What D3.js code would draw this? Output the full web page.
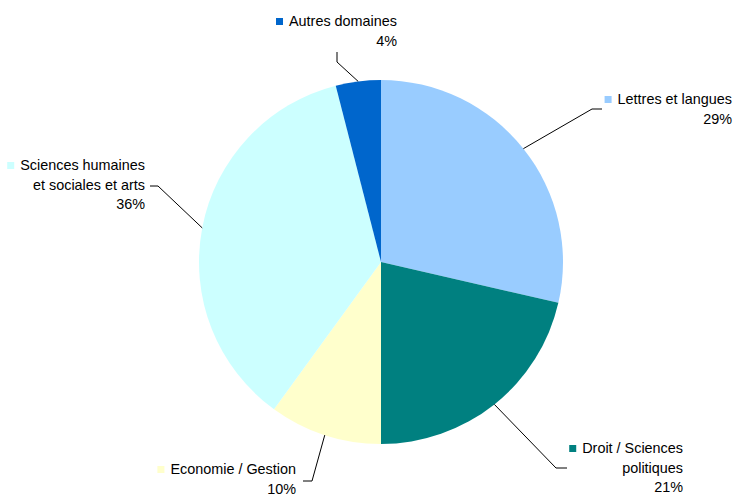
<!DOCTYPE html>
<html><head><meta charset="utf-8">
<script src="https://cdn.jsdelivr.net/npm/d3@7"></script>
<style>body{margin:0;background:#fff}svg{display:block}text{font-family:"Liberation Sans",Arial,sans-serif;font-size:14.4px;fill:#000}</style>
</head><body><svg id="c" width="734" height="495"></svg>
<script>
const categories = ["Lettres et langues","Droit / Sciences politiques","Economie / Gestion","Sciences humaines et sociales et arts","Autres domaines"];
const values = [28.6, 21.4, 10, 36, 4];
const colors = ["#99CCFF","#008080","#FFFFCC","#CCFFFF","#0066CC"];
const labelLines = [["Lettres et langues"],["Droit / Sciences","politiques"],["Economie / Gestion"],["Sciences humaines","et sociales et arts"],["Autres domaines"]];

// layout (label anchor: right edge x, first baseline y; leader elbow + end)
const layout = [
  {rx:732, y:104, leader:[[592,109],[602,109]]},
  {rx:683, y:453, leader:[[556,468],[567,468]]},
  {rx:296, y:474, leader:[[312,481],[303,481]]},
  {rx:145, y:170, leader:[[158,186],[150,186]]},
  {rx:397, y:26,  leader:[[337,62],[337,52]]}
];
const cx = 381, cy = 262, R = 182, lineH = 19.5;

const svg = d3.select("#c");
const pie = d3.pie().sort(null).value(d=>d)(values);
const arc = d3.arc().innerRadius(0).outerRadius(R);
const g = svg.append("g").attr("transform",`translate(${cx},${cy})`);
g.selectAll("path").data(pie).join("path").attr("d",arc).attr("fill",(d,i)=>colors[i]);

const pct = d3.format(".0%");
const total = d3.sum(values);
pie.forEach((d,i)=>{
  const L = layout[i];
  const a = (d.startAngle+d.endAngle)/2;
  const p0 = [cx + R*Math.sin(a), cy - R*Math.cos(a)];
  svg.append("path").attr("d", d3.line()([p0, ...L.leader])).attr("fill","none").attr("stroke","#000").attr("stroke-width",1);
  const lines = [...labelLines[i], pct(values[i]/total)];
  const t = svg.append("text").attr("text-anchor","end");
  lines.forEach((s,k)=>t.append("tspan").attr("x",L.rx).attr("y",L.y+k*lineH).text(s));
  const w = t.node().querySelector("tspan").getComputedTextLength();
  svg.append("rect").attr("x",L.rx-w-13).attr("y",L.y-8).attr("width",7).attr("height",7).attr("fill",colors[i]);
});
</script></body></html>
